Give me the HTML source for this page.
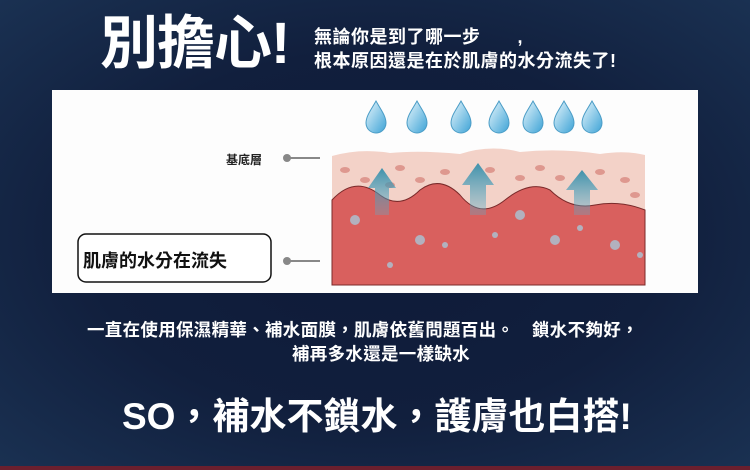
<!DOCTYPE html>
<html><head><meta charset="utf-8"><style>
html,body{margin:0;padding:0}
body{width:750px;height:470px;overflow:hidden;position:relative;background:radial-gradient(ellipse at 50% 50%,#0e1a38 0%,#111f3d 55%,#1a3152 100%);font-family:"Liberation Sans","Noto Sans CJK TC",sans-serif;color:#fff}
.t{position:absolute;white-space:nowrap;font-weight:bold}
#panel{position:absolute;left:52px;top:90px;width:646px;height:203px;background:#fdfdfd}
</style></head><body>
<div class="t" style="left:100px;top:10px;font-size:58px;line-height:68px;letter-spacing:-1px">別擔心!</div>
<div class="t" style="left:314px;top:26px;font-size:18px;line-height:22px;letter-spacing:0.5px">無論你是到了哪一步　　,</div>
<div class="t" style="left:314px;top:50px;font-size:18px;line-height:22px;letter-spacing:0.5px">根本原因還是在於肌膚的水分流失了!</div>
<div id="panel"></div>
<svg style="position:absolute;left:0;top:0" width="750" height="470">
<defs>
<linearGradient id="dr" x1="0" y1="0" x2="1" y2="1"><stop offset="0" stop-color="#e8f6fc"/><stop offset="1" stop-color="#3da3d6"/></linearGradient>
<linearGradient id="ar" x1="0" y1="1" x2="0" y2="0"><stop offset="0" stop-color="#5ab0cc" stop-opacity="0.3"/><stop offset="1" stop-color="#2b8aa8" stop-opacity="0.9"/></linearGradient>
</defs>
<g fill="url(#dr)" stroke="#4a9cc6" stroke-width="1">
<path d="M376 101 C371 110 366 116 366 123 A10 10 0 0 0 386 123 C386 116 381 110 376 101Z"/>
<path d="M417 101 C412 110 407 116 407 123 A10 10 0 0 0 427 123 C427 116 422 110 417 101Z"/>
<path d="M461 101 C456 110 451 116 451 123 A10 10 0 0 0 471 123 C471 116 466 110 461 101Z"/>
<path d="M499 101 C494 110 489 116 489 123 A10 10 0 0 0 509 123 C509 116 504 110 499 101Z"/>
<path d="M533 101 C528 110 523 116 523 123 A10 10 0 0 0 543 123 C543 116 538 110 533 101Z"/>
<path d="M564 101 C559 110 554 116 554 123 A10 10 0 0 0 574 123 C574 116 569 110 564 101Z"/>
<path d="M592 101 C587 110 582 116 582 123 A10 10 0 0 0 602 123 C602 116 597 110 592 101Z"/>
</g>
<path d="M332 156 Q360 148 390 153 Q420 150 460 154 Q490 144 520 152 Q560 148 600 154 Q625 150 645 155 L645 285 L332 285Z" fill="#f3d2c8"/>
<path d="M332 200 Q355 175 380 195 Q400 210 420 190 Q440 175 460 195 Q480 220 505 200 Q530 180 550 190 Q570 210 595 205 Q620 200 645 210 L645 285 L332 285Z" fill="#d9605e" stroke="#7a2a2a" stroke-width="1"/>
<g fill="#d98a82" opacity="0.8">
<ellipse cx="345" cy="170" rx="5" ry="3"/><ellipse cx="365" cy="180" rx="5" ry="3"/><ellipse cx="400" cy="168" rx="5" ry="3"/><ellipse cx="420" cy="180" rx="5" ry="3"/><ellipse cx="445" cy="172" rx="5" ry="3"/><ellipse cx="490" cy="170" rx="5" ry="3"/><ellipse cx="520" cy="178" rx="5" ry="3"/><ellipse cx="540" cy="168" rx="5" ry="3"/><ellipse cx="560" cy="178" rx="5" ry="3"/><ellipse cx="600" cy="172" rx="5" ry="3"/><ellipse cx="625" cy="180" rx="5" ry="3"/><ellipse cx="635" cy="195" rx="5" ry="3"/><ellipse cx="390" cy="185" rx="5" ry="3"/>
</g>
<g fill="url(#ar)">
<path d="M382 168 L396 188 L389 188 L389 215 L375 215 L375 188 L368 188Z"/>
<path d="M478 163 L494 185 L486 185 L486 215 L470 215 L470 185 L462 185Z"/>
<path d="M582 170 L598 190 L590 190 L590 215 L574 215 L574 190 L566 190Z"/>
</g>
<g fill="#a9c6d6" opacity="0.8">
<circle cx="355" cy="220" r="5"/><circle cx="420" cy="240" r="5"/><circle cx="445" cy="245" r="3"/><circle cx="520" cy="215" r="5"/><circle cx="555" cy="240" r="5"/><circle cx="615" cy="245" r="5"/><circle cx="390" cy="265" r="3"/><circle cx="495" cy="235" r="3"/><circle cx="580" cy="228" r="3"/><circle cx="640" cy="255" r="3"/>
</g>
<line x1="286" y1="158" x2="320" y2="158" stroke="#888" stroke-width="2"/><circle cx="287" cy="158" r="4" fill="#888"/>
<line x1="286" y1="261" x2="320" y2="261" stroke="#888" stroke-width="2"/><circle cx="287" cy="261" r="4" fill="#888"/>
<rect x="78" y="234" width="193" height="48" rx="8" fill="#fff" stroke="#111" stroke-width="1.5"/>
<rect x="0" y="466" width="750" height="4" fill="#6b1f2e"/>
</svg>
<div class="t" style="left:226px;top:151px;font-size:12px;color:#222">基底層</div>
<div class="t" style="left:83px;top:247px;font-size:18px;color:#111">肌膚的水分在流失</div>
<div class="t" style="left:87px;top:319px;font-size:17.5px;line-height:22px;letter-spacing:0.3px">一直在使用保濕精華、補水面膜，肌膚依舊問題百出。　鎖水不夠好，</div>
<div class="t" style="left:292px;top:343px;font-size:17.5px;line-height:22px;letter-spacing:0.3px">補再多水還是一樣缺水</div>
<div class="t" style="left:122px;top:394px;font-size:37px;line-height:46px">SO，補水不鎖水，護膚也白搭!</div>
</body></html>
